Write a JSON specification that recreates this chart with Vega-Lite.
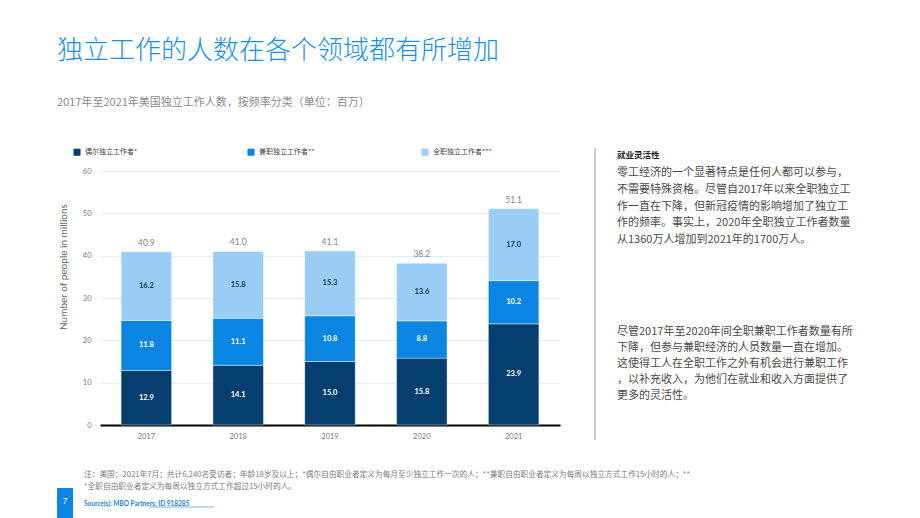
{
  "$schema": "https://vega.github.io/schema/vega-lite/v6.json",
  "autosize": {"type": "none"},
  "padding": {"left": 100, "top": 171, "right": 360, "bottom": 93},
  "width": 460,
  "height": 254,
  "background": "#ffffff",
  "config": {"view": {"stroke": null}, "font": "Lato"},
  "data": {
    "values": [
      {"year": "2017", "type": "偶尔独立工作者*", "k": 1, "v": 12.9},
      {"year": "2017", "type": "兼职独立工作者**", "k": 2, "v": 11.8},
      {"year": "2017", "type": "全职独立工作者***", "k": 3, "v": 16.2},
      {"year": "2018", "type": "偶尔独立工作者*", "k": 1, "v": 14.1},
      {"year": "2018", "type": "兼职独立工作者**", "k": 2, "v": 11.1},
      {"year": "2018", "type": "全职独立工作者***", "k": 3, "v": 15.8},
      {"year": "2019", "type": "偶尔独立工作者*", "k": 1, "v": 15.0},
      {"year": "2019", "type": "兼职独立工作者**", "k": 2, "v": 10.8},
      {"year": "2019", "type": "全职独立工作者***", "k": 3, "v": 15.3},
      {"year": "2020", "type": "偶尔独立工作者*", "k": 1, "v": 15.8},
      {"year": "2020", "type": "兼职独立工作者**", "k": 2, "v": 8.8},
      {"year": "2020", "type": "全职独立工作者***", "k": 3, "v": 13.6},
      {"year": "2021", "type": "偶尔独立工作者*", "k": 1, "v": 23.9},
      {"year": "2021", "type": "兼职独立工作者**", "k": 2, "v": 10.2},
      {"year": "2021", "type": "全职独立工作者***", "k": 3, "v": 17.0}
    ]
  },
  "layer": [
    {
      "mark": {"type": "bar", "stroke": "#ffffff", "strokeWidth": 0.8, "strokeOpacity": 0.5},
      "encoding": {
        "x": {
          "field": "year", "type": "ordinal", "title": null,
          "scale": {"paddingInner": 0.45, "paddingOuter": 0.23},
          "axis": {"labelAngle": 0, "ticks": false, "domainColor": "#000000", "domainWidth": 2, "labelFontSize": 7.5, "labelColor": "#777777", "labelPadding": 7, "grid": false}
        },
        "y": {
          "field": "v", "type": "quantitative", "stack": "zero", "title": "Number of people in millions",
          "scale": {"domain": [0, 60]},
          "axis": {"values": [0, 10, 20, 30, 40, 50, 60], "domain": false, "ticks": false, "labelFontSize": 7.5, "labelColor": "#777777", "labelPadding": 9, "gridColor": "#deedfa", "gridWidth": 1, "titleFont": "Lato", "titleFontSize": 10, "titleFontWeight": "normal", "titleColor": "#666666", "titleX": -32, "titleY": 95.5, "titleAlign": "center"}
        },
        "color": {
          "field": "type", "type": "nominal",
          "scale": {"domain": ["偶尔独立工作者*", "兼职独立工作者**", "全职独立工作者***"], "range": ["#053f6f", "#0a86e2", "#99cdf6"]},
          "legend": {"title": null, "orient": "none", "legendX": -27, "legendY": -23, "direction": "horizontal", "columns": 3, "gridAlign": "all", "columnPadding": 103, "symbolType": "square", "symbolSize": 50, "symbolStrokeWidth": 0, "labelFont": "Noto Sans CJK SC", "labelFontSize": 7, "labelColor": "#444444", "labelOffset": 4, "labelLimit": 200}
        },
        "order": {"field": "k", "type": "quantitative", "sort": "ascending"}
      }
    },
    {
      "transform": [
        {"stack": "v", "groupby": ["year"], "sort": [{"field": "k", "order": "ascending"}], "as": ["v0", "v1"]},
        {"calculate": "(datum.v0 + datum.v1) / 2", "as": "mid"}
      ],
      "mark": {"type": "text", "font": "Lato", "fontWeight": "bold", "fontSize": 7.5, "baseline": "middle"},
      "encoding": {
        "x": {"field": "year", "type": "ordinal", "title": null},
        "y": {"field": "mid", "type": "quantitative", "title": "Number of people in millions"},
        "text": {"field": "v", "type": "quantitative", "format": ".1f"},
        "color": {"condition": {"test": "datum.k === 3", "value": "#0b3a66"}, "value": "#ffffff"}
      }
    },
    {
      "transform": [{"aggregate": [{"op": "sum", "field": "v", "as": "total"}], "groupby": ["year"]}],
      "mark": {"type": "text", "dy": -9, "fontSize": 8.5, "color": "#808080", "baseline": "middle"},
      "encoding": {
        "x": {"field": "year", "type": "ordinal", "title": null},
        "y": {"field": "total", "type": "quantitative", "title": "Number of people in millions"},
        "text": {"field": "total", "type": "quantitative", "format": ".1f"}
      }
    },
    {
      "data": {"values": [{}]},
      "mark": {"type": "text", "align": "left", "baseline": "middle", "font": "Noto Sans CJK SC", "fontSize": 26, "fontWeight": 300, "color": "#1a8fe6"},
      "encoding": {"x": {"value": -43}, "y": {"value": -120.5}, "text": {"value": "独立工作的人数在各个领域都有所增加"}}
    },
    {
      "data": {"values": [{}]},
      "mark": {"type": "text", "align": "left", "baseline": "middle", "font": "Noto Sans CJK SC", "fontSize": 11, "color": "#8a8a8a"},
      "encoding": {"x": {"value": -43}, "y": {"value": -68.5}, "text": {"value": "2017年至2021年美国独立工作人数，按频率分类（单位：百万）"}}
    },
    {
      "data": {"values": [{}]},
      "mark": {"type": "rule", "color": "#9a9a9a", "strokeWidth": 1},
      "encoding": {"x": {"value": 495}, "y": {"value": -23}, "y2": {"value": 269}}
    },
    {
      "data": {"values": [{}]},
      "mark": {"type": "text", "align": "left", "baseline": "middle", "font": "Noto Sans CJK SC", "fontSize": 8.5, "fontWeight": "bold", "color": "#222222"},
      "encoding": {"x": {"value": 517}, "y": {"value": -16}, "text": {"value": "就业灵活性"}}
    },
    {
      "data": {"values": [{}]},
      "mark": {"type": "text", "align": "left", "baseline": "middle", "font": "Noto Sans CJK SC", "fontSize": 11, "lineHeight": 16.75, "color": "#4a4a4a"},
      "encoding": {"x": {"value": 517}, "y": {"value": 2}, "text": {"value": ["零工经济的一个显著特点是任何人都可以参与，", "不需要特殊资格。尽管自2017年以来全职独立工", "作一直在下降，但新冠疫情的影响增加了独立工", "作的频率。事实上，2020年全职独立工作者数量", "从1360万人增加到2021年的1700万人。"]}}
    },
    {
      "data": {"values": [{}]},
      "mark": {"type": "text", "align": "left", "baseline": "middle", "font": "Noto Sans CJK SC", "fontSize": 11, "lineHeight": 16.1, "color": "#4a4a4a"},
      "encoding": {"x": {"value": 517}, "y": {"value": 161}, "text": {"value": ["尽管2017年至2020年间全职兼职工作者数量有所", "下降，但参与兼职经济的人员数量一直在增加。", "这使得工人在全职工作之外有机会进行兼职工作", "，以补充收入，为他们在就业和收入方面提供了", "更多的灵活性。"]}}
    },
    {
      "data": {"values": [{}]},
      "mark": {"type": "text", "align": "left", "baseline": "middle", "font": "Noto Sans CJK SC", "fontSize": 7.7, "lineHeight": 12, "color": "#7a7a7a"},
      "encoding": {"x": {"value": -16}, "y": {"value": 304}, "text": {"value": ["注：美国；2021年7月；共计6,240名受访者；年龄18岁及以上；*偶尔自由职业者定义为每月至少独立工作一次的人；**兼职自由职业者定义为每周以独立方式工作15小时的人；**", "*全职自由职业者定义为每周以独立方式工作超过15小时的人。"]}}
    },
    {
      "data": {"values": [{}]},
      "mark": {"type": "text", "align": "left", "baseline": "middle", "font": "Lato", "fontSize": 6.5, "fontWeight": "bold", "color": "#1a7fd6"},
      "encoding": {"x": {"value": -16}, "y": {"value": 333}, "text": {"value": "Source(s): MBO Partners; ID 918285"}}
    },
    {
      "data": {"values": [{}]},
      "mark": {"type": "rule", "color": "#1a7fd6", "strokeWidth": 0.6},
      "encoding": {"x": {"value": 50}, "x2": {"value": 114}, "y": {"value": 336}}
    },
    {
      "data": {"values": [{}]},
      "mark": {"type": "rect", "color": "#0a86e3"},
      "encoding": {"x": {"value": -43}, "x2": {"value": -27}, "y": {"value": 317}, "y2": {"value": 347}}
    },
    {
      "data": {"values": [{}]},
      "mark": {"type": "text", "align": "center", "baseline": "middle", "font": "Lato", "fontSize": 8, "color": "#ffffff"},
      "encoding": {"x": {"value": -35}, "y": {"value": 331}, "text": {"value": "7"}}
    }
  ]
}
